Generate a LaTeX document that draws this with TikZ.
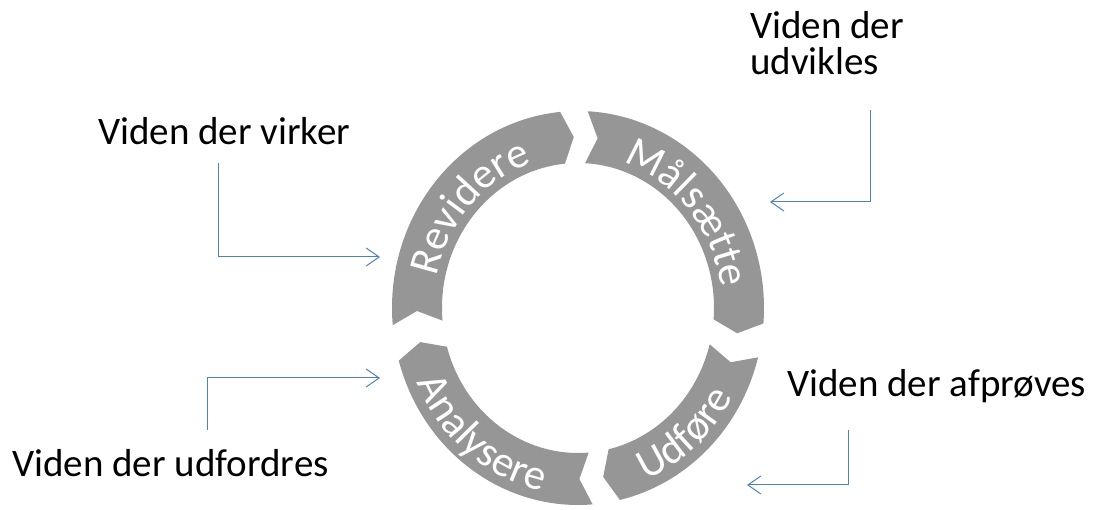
\documentclass[tikz,border=0pt]{standalone}
\usepackage{fontspec}
\setmainfont{Carlito}
\usepackage{tikz}
\usetikzlibrary{arrows.meta,decorations.text}

\definecolor{ringgray}{RGB}{150,150,150}
\definecolor{linkblue}{RGB}{79,129,189}

\begin{document}
\begin{tikzpicture}[x=1pt, y=1pt,
    every node/.style={font=\fontsize{39}{36}\selectfont, inner sep=0pt},
    link/.style={draw=linkblue, line width=1pt, -{Straight Barb[length=13pt,width=18pt]}},
    ringtext/.style={decorate, decoration={text along path, text align=center,
        text={|\fontsize{43}{43}\selectfont\color{white}|#1}}}]
  \useasboundingbox (0,0) rectangle (1094,510);

  % the ring, four arrows going clockwise
  \begin{scope}[shift={(578,202)}]
    \fill[ringgray] (185:186pt and 197pt) arc[start angle=185, end angle=95.5, x radius=186pt, y radius=197pt]
      -- (91.5:161pt and 171pt) -- (95.5:136pt and 145pt)
      arc[start angle=95.5, end angle=185, x radius=136pt, y radius=145pt] -- (181:161pt and 171pt) -- cycle;
    \fill[ringgray] (87:186pt and 197pt) arc[start angle=87, end angle=-4.5, x radius=186pt, y radius=197pt]
      -- (-8.5:161pt and 171pt) -- (-4.5:136pt and 145pt)
      arc[start angle=-4.5, end angle=87, x radius=136pt, y radius=145pt] -- (83:161pt and 171pt) -- cycle;
    \fill[ringgray] (-14.5:186pt and 197pt) arc[start angle=-14.5, end angle=-77, x radius=186pt, y radius=197pt]
      -- (-81:161pt and 171pt) -- (-77:136pt and 145pt)
      arc[start angle=-77, end angle=-14.5, x radius=136pt, y radius=145pt] -- (-18.5:161pt and 171pt) -- cycle;
    \fill[ringgray] (274.5:186pt and 197pt) arc[start angle=274.5, end angle=195.5, x radius=186pt, y radius=197pt]
      -- (191.5:161pt and 171pt) -- (195.5:136pt and 145pt)
      arc[start angle=195.5, end angle=274.5, x radius=136pt, y radius=145pt] -- (270.5:161pt and 171pt) -- cycle;

    % words on the ring
    \path[ringtext=Revidere] (180:144pt and 153pt) arc[start angle=180, end angle=96, x radius=144pt, y radius=153pt];
    \path[ringtext=Målsætte] (84:144pt and 153pt) arc[start angle=84, end angle=-4, x radius=144pt, y radius=153pt];
    \path[ringtext=Udføre] (-77:176pt and 187pt) arc[start angle=-77, end angle=-19, x radius=176pt, y radius=187pt];
    \path[ringtext=Analysere] (196:176pt and 187pt) arc[start angle=196, end angle=266, x radius=176pt, y radius=187pt];
  \end{scope}

  % labels
  \node[anchor=base west] (virker) at (98,365) {Viden der virker};
  \node[anchor=north west, align=left] (udvikles) at (750,499) {Viden der\\udvikles};
  \node[anchor=base west] (afproeves) at (787,113) {Viden der afprøves};
  \node[anchor=base west] (udfordres) at (12,33) {Viden der udfordres};

  \coordinate (virkerA) at (218,347);
  \coordinate (virkerB) at (380,253);
  \coordinate (udviklesA) at (870,400);
  \coordinate (udviklesB) at (770,308);
  \coordinate (afproevesA) at (848,80);
  \coordinate (afproevesB) at (747,25);
  \coordinate (udfordresA) at (207,80);
  \coordinate (udfordresB) at (380,132);

  \draw[link] (virkerA) |- (virkerB);
  \draw[link] (udviklesA) |- (udviklesB);
  \draw[link] (afproevesA) |- (afproevesB);
  \draw[link] (udfordresA) |- (udfordresB);
\end{tikzpicture}
\end{document}
